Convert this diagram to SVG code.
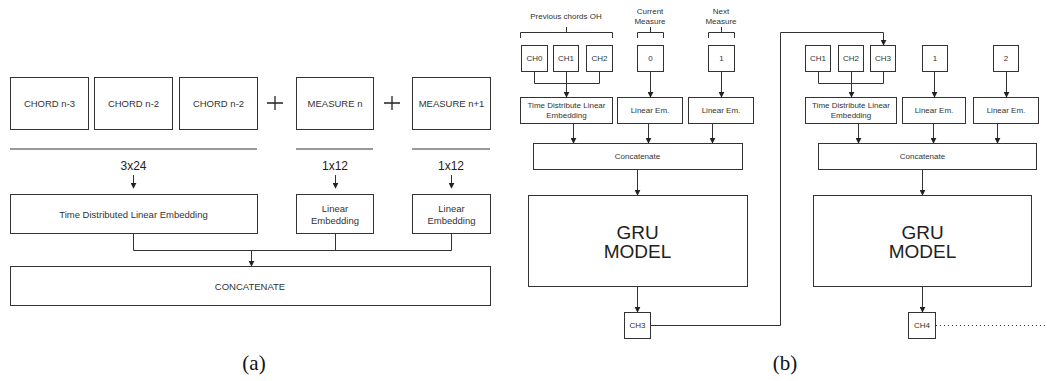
<svg xmlns="http://www.w3.org/2000/svg" width="1047" height="381" viewBox="0 0 1047 381">
  <defs>
    <marker id="arr" viewBox="0 0 8 8" refX="7" refY="4" markerWidth="6" markerHeight="6" orient="auto" markerUnits="userSpaceOnUse">
      <path d="M0,0 L8,4 L0,8 z" fill="#222"/>
    </marker>
  </defs>
  <style>
    .box { fill: #fff; stroke: #333; stroke-width: 1; }
    .t { font-family: "Liberation Sans", Arial, sans-serif; fill: #333; text-anchor: middle; dominant-baseline: central; }
    .ta { font-size: 9.5px; }
    .tb { font-size: 8px; }
    .tn { font-size: 12px; fill: #222; }
    .big { font-size: 19px; fill: #222; }
    .sep { stroke: #999; stroke-width: 2; fill: none; }
    .wire { stroke: #333; stroke-width: 1; fill: none; }
    .arrow { stroke: #333; stroke-width: 1; fill: none; marker-end: url(#arr); }
    .plus { stroke: #222; stroke-width: 1.3; }
    .cap { font-family: "Liberation Serif", "Times New Roman", serif; font-size: 21px; fill: #111; text-anchor: middle; }
  </style>
  <rect width="1047" height="381" fill="#fff"/>

  <!-- (a) input blocks -->
  <g id="chord-n3"><rect class="box" x="10.5" y="77.5" width="78" height="52"/><text class="t ta" x="49.5" y="103">CHORD n-3</text></g>
  <g id="chord-n2a"><rect class="box" x="94.5" y="77.5" width="78" height="52"/><text class="t ta" x="133.5" y="103">CHORD n-2</text></g>
  <g id="chord-n2b"><rect class="box" x="179.5" y="77.5" width="78" height="52"/><text class="t ta" x="218.5" y="103">CHORD n-2</text></g>
  <g id="measure-n"><rect class="box" x="296.5" y="77.5" width="77" height="52"/><text class="t ta" x="335" y="103">MEASURE n</text></g>
  <g id="measure-n1"><rect class="box" x="412.5" y="77.5" width="78" height="52"/><text class="t ta" x="451.5" y="103">MEASURE n+1</text></g>
  <g id="plus-signs">
    <path class="plus" d="M267,103 H283 M275,96 V110"/>
    <path class="plus" d="M384,103 H400 M392,96 V110"/>
  </g>
  <g id="separators">
    <path class="sep" d="M10,149 H257 M296,149 H373 M412,149 H490"/>
  </g>
  <g id="dims">
    <text class="t tn" x="133.5" y="166">3x24</text>
    <text class="t tn" x="335" y="166">1x12</text>
    <text class="t tn" x="451" y="166">1x12</text>
  </g>
  <g id="time-dist"><rect class="box" x="10.5" y="194.5" width="247" height="39"/><text class="t ta" x="133.5" y="214">Time Distributed Linear Embedding</text></g>
  <g id="lin-emb-1"><rect class="box" x="296.5" y="194.5" width="77" height="39"/><text class="t ta" x="335" y="208">Linear</text><text class="t ta" x="335" y="220">Embedding</text></g>
  <g id="lin-emb-2"><rect class="box" x="412.5" y="194.5" width="78" height="39"/><text class="t ta" x="451.5" y="208">Linear</text><text class="t ta" x="451.5" y="220">Embedding</text></g>
  <g id="concat-a"><rect class="box" x="10.5" y="266.5" width="480" height="39"/><text class="t ta" x="250" y="286">CONCATENATE</text></g>

  <!-- (b) unrolled GRU, step 1 -->
  <g id="labels-b">
    <text class="t tb" x="566" y="16">Previous chords OH</text>
    <text class="t tb" x="650" y="11">Current</text>
    <text class="t tb" x="650" y="21">Measure</text>
    <text class="t tb" x="721" y="11">Next</text>
    <text class="t tb" x="721" y="21">Measure</text>
  </g>
  <g id="brackets">
    <path class="wire" d="M520.5,38 V32.5 H612.5 V38 M566.5,32.5 V27"/>
    <path class="wire" d="M637.5,38 V32.5 H663.5 V38 M650.5,32.5 V27"/>
    <path class="wire" d="M708.5,38 V32.5 H734.5 V38 M721.5,32.5 V27"/>
  </g>
  <g id="ch0"><rect class="box" x="521.5" y="45.5" width="26" height="26"/><text class="t tb" x="534.5" y="58.5">CH0</text></g>
  <g id="ch1"><rect class="box" x="553.5" y="45.5" width="25" height="26"/><text class="t tb" x="566" y="58.5">CH1</text></g>
  <g id="ch2"><rect class="box" x="586.5" y="45.5" width="26" height="26"/><text class="t tb" x="599.5" y="58.5">CH2</text></g>
  <g id="m0"><rect class="box" x="637.5" y="45.5" width="26" height="26"/><text class="t tb" x="650.5" y="58.5">0</text></g>
  <g id="m1"><rect class="box" x="708.5" y="45.5" width="26" height="26"/><text class="t tb" x="721.5" y="58.5">1</text></g>
  <g id="tdle-1"><rect class="box" x="520.5" y="97.5" width="92" height="26"/><text class="t tb" x="566.5" y="105">Time Distribute Linear</text><text class="t tb" x="566.5" y="115">Embedding</text></g>
  <g id="lem-1a"><rect class="box" x="617.5" y="97.5" width="65" height="26"/><text class="t tb" x="650" y="110.5">Linear Em.</text></g>
  <g id="lem-1b"><rect class="box" x="688.5" y="97.5" width="65" height="26"/><text class="t tb" x="721" y="110.5">Linear Em.</text></g>
  <g id="concat-1"><rect class="box" x="533.5" y="143.5" width="209" height="26"/><text class="t tb" x="637.5" y="156.5">Concatenate</text></g>
  <g id="gru-1"><rect class="box" x="528.5" y="195.5" width="219" height="91"/><text class="t big" x="637.5" y="232">GRU</text><text class="t big" x="637.5" y="251">MODEL</text></g>
  <g id="out-ch3"><rect class="box" x="624.5" y="312.5" width="26" height="26"/><text class="t tb" x="637.5" y="325.5">CH3</text></g>

  <!-- (b) unrolled GRU, step 2 -->
  <g id="ch1b"><rect class="box" x="805.5" y="45.5" width="25" height="26"/><text class="t tb" x="818" y="58.5">CH1</text></g>
  <g id="ch2b"><rect class="box" x="838.5" y="45.5" width="25" height="26"/><text class="t tb" x="851" y="58.5">CH2</text></g>
  <g id="ch3b"><rect class="box" x="870.5" y="45.5" width="25" height="26"/><text class="t tb" x="883" y="58.5">CH3</text></g>
  <g id="m1b"><rect class="box" x="922.5" y="45.5" width="25" height="26"/><text class="t tb" x="935" y="58.5">1</text></g>
  <g id="m2b"><rect class="box" x="993.5" y="45.5" width="25" height="26"/><text class="t tb" x="1006" y="58.5">2</text></g>
  <g id="tdle-2"><rect class="box" x="805.5" y="97.5" width="91" height="26"/><text class="t tb" x="851" y="105">Time Distribute Linear</text><text class="t tb" x="851" y="115">Embedding</text></g>
  <g id="lem-2a"><rect class="box" x="902.5" y="97.5" width="63" height="26"/><text class="t tb" x="934" y="110.5">Linear Em.</text></g>
  <g id="lem-2b"><rect class="box" x="973.5" y="97.5" width="65" height="26"/><text class="t tb" x="1006" y="110.5">Linear Em.</text></g>
  <g id="concat-2"><rect class="box" x="818.5" y="143.5" width="218" height="26"/><text class="t tb" x="922.5" y="156.5">Concatenate</text></g>
  <g id="gru-2"><rect class="box" x="813.5" y="195.5" width="218" height="91"/><text class="t big" x="922.5" y="232">GRU</text><text class="t big" x="922.5" y="251">MODEL</text></g>
  <g id="out-ch4"><rect class="box" x="908.5" y="312.5" width="27" height="26"/><text class="t tb" x="922" y="325.5">CH4</text></g>

  <g id="connectors">
    <!-- (a) -->
    <path class="arrow" d="M133.5,175 V188"/>
    <path class="arrow" d="M335.5,175 V188"/>
    <path class="arrow" d="M451.5,175 V188"/>
    <path class="wire" d="M133.5,233.5 V250.5 H451.5 V233.5 M335.5,233.5 V250.5"/>
    <path class="arrow" d="M251.5,250.5 V266"/>
    <!-- (b) step 1 -->
    <path class="wire" d="M534.5,71.5 V83.5 H599.5 V71.5"/>
    <path class="arrow" d="M566.5,71.5 V97"/>
    <path class="arrow" d="M650.5,71.5 V97"/>
    <path class="arrow" d="M721.5,71.5 V97"/>
    <path class="arrow" d="M573.5,123.5 V143"/>
    <path class="arrow" d="M648.5,123.5 V143"/>
    <path class="arrow" d="M712.5,123.5 V143"/>
    <path class="arrow" d="M637.5,169.5 V195"/>
    <path class="arrow" d="M637.5,286.5 V312"/>
    <!-- recurrence: CH3 fed back as next input -->
    <path class="arrow" d="M650.5,325.5 H780.5 V32.5 H883.5 V45"/>
    <!-- (b) step 2 -->
    <path class="wire" d="M818.5,71.5 V83.5 H883.5 V71.5"/>
    <path class="arrow" d="M851.5,71.5 V97"/>
    <path class="arrow" d="M934.5,71.5 V97"/>
    <path class="arrow" d="M1006.5,71.5 V97"/>
    <path class="arrow" d="M858.5,123.5 V143"/>
    <path class="arrow" d="M933.5,123.5 V143"/>
    <path class="arrow" d="M997.5,123.5 V143"/>
    <path class="arrow" d="M922.5,169.5 V195"/>
    <path class="arrow" d="M922.5,286.5 V312"/>
    <path class="wire" d="M936,325.5 H1047" stroke-dasharray="1 3"/>
  </g>

  <g id="captions">
    <text class="cap" x="254" y="370">(a)</text>
    <text class="cap" x="785" y="370">(b)</text>
  </g>
</svg>
